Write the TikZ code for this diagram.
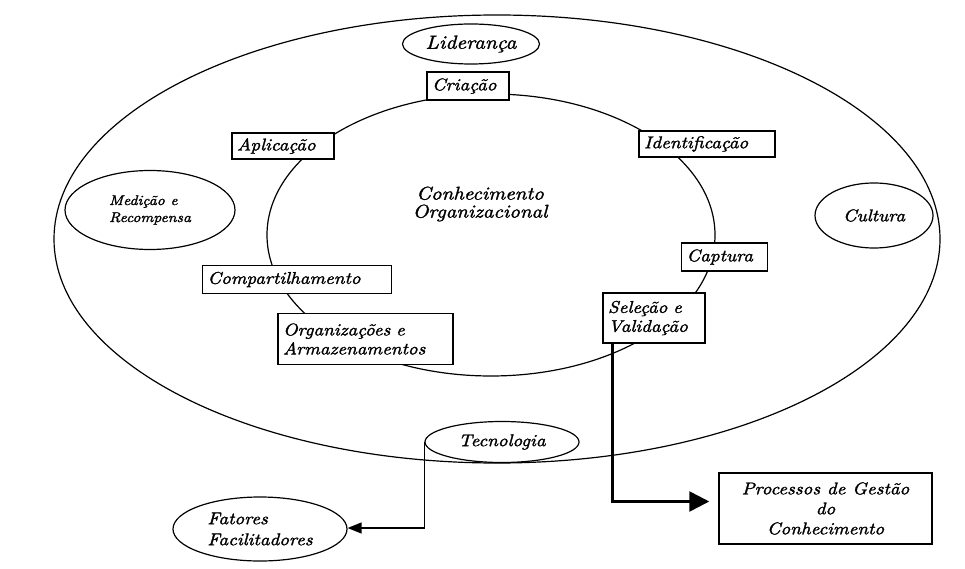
\documentclass[tikz,border=0pt]{standalone}
\usepackage{fontspec}
\newfontfamily\lbl{lmroman10-italic.otf}[FakeStretch=1.12, FakeBold=1.6]
\usetikzlibrary{shapes.geometric,arrows.meta}
\begin{document}
\begin{tikzpicture}[x=1pt,y=-1pt,
  txt/.style={font=\lbl\fontsize{17}{19}\selectfont},
  stage/.style={txt, draw, line width=1.5pt, fill=white, inner xsep=5pt,
    inner ysep=2pt, align=left, anchor=center},
  factor/.style={txt, draw, ellipse, line width=1.2pt, inner sep=0pt, align=left},
  ring/.style={line width=1.2pt},
  link/.style={line width=1.4pt, -{Triangle[length=14pt,width=11pt]}},
  biglink/.style={line width=2.6pt, -{Triangle[length=20pt,width=20pt]}}]
\useasboundingbox (0,0) rectangle (965,569);

% outer and inner rings
\draw[ring] (497,239) ellipse [x radius=443pt, y radius=224pt];
\draw[ring] (491,235) ellipse [x radius=224pt, y radius=141pt];

% central label
\node[font=\lbl\fontsize{18.5}{18}\selectfont, align=center] (core) at (480,204)
  {Conhecimento\\Organizacional};

% knowledge management stages on the inner ring
\node[stage, text width=72pt,  minimum height=28pt] (cri) at (468,86)   {Criação};
\node[stage, text width=92pt,  minimum height=26pt] (apl) at (283,146)  {Aplicação};
\node[stage, text width=126pt, minimum height=26pt] (ide) at (707,144)  {Identificação};
\node[stage, text width=76pt,  minimum height=28pt] (cap) at (724.5,257) {Captura};
\node[stage, text width=92pt,  minimum height=50pt] (sel) at (654,318)  {Seleção e\\Validação};
\node[stage, text width=179pt, minimum height=28pt] (com) at (297,279.5) {Compartilhamento};
\node[stage, text width=165pt, minimum height=51pt] (org) at (365.5,339) {Organizações e\\Armazenamentos};

% enabling factors
\node[factor, font=\lbl\fontsize{19}{20}\selectfont, minimum width=137pt, minimum height=40pt] (lid) at (471,44) {Liderança};
\node[factor, font=\lbl\fontsize{14}{17}\selectfont, minimum width=170pt, minimum height=79pt] (med) at (150,210) {Medição e\\Recompensa};
\node[factor, minimum width=118pt, minimum height=65pt] (cul) at (874,215.5) {Cultura};
\node[factor, minimum width=154pt, minimum height=41pt] (tec) at (502,442) {Tecnologia};

% legend
\node[factor, font=\lbl\fontsize{17}{21}\selectfont, minimum width=174pt, minimum height=64pt] (fat) at (260,529) {Fatores\\Facilitadores};
\node[txt, draw, line width=1.5pt, align=center, minimum width=213pt, minimum height=71pt,
  inner sep=2pt, font=\lbl\fontsize{17}{20}\selectfont] (proc) at (825.5,508.5) {Processos de Gestão\\do\\Conhecimento};

% legend connectors
\draw[link] (tec.west) |- ([yshift=1pt]fat.east);
\draw[biglink, shorten >=9pt] ([xshift=10pt]sel.south west) |- ([yshift=7pt]proc.west);
\end{tikzpicture}
\end{document}
